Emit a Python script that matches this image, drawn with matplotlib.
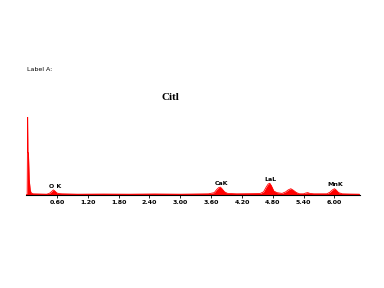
import matplotlib
matplotlib.use("Agg")
import matplotlib.pyplot as plt

# spectrum (keV, counts)
energy = [0.02, 0.03, 0.035, 0.045, 0.06, 0.08, 0.10, 0.14, 0.40, 0.45, 0.49, 0.53, 0.56, 0.60, 0.64,
          0.70, 1.00, 1.50, 2.00, 2.50, 3.00, 3.55, 3.66, 3.71, 3.75, 3.78, 3.81, 3.86, 3.92, 4.10,
          4.55, 4.62, 4.67, 4.71, 4.74, 4.77, 4.82, 4.88, 4.98, 5.05, 5.10, 5.15, 5.20, 5.26, 5.32,
          5.40, 5.44, 5.48, 5.52, 5.60, 5.85, 5.91, 5.96, 6.00, 6.03, 6.08, 6.15, 6.30, 6.48]
counts = [0, 100, 54, 54, 20, 6, 2.5, 1.5, 1, 2, 4, 6.5, 5, 2.5, 1.8,
          1.5, 1, 1.2, 1, 1.3, 1, 1.5, 3, 7, 9.5, 10, 8, 4, 2, 1.5,
          1.8, 4, 10, 14, 15, 12, 5, 3, 2, 4, 6.5, 8, 6, 3, 1.5,
          1.5, 2.5, 3, 2, 1.5, 1.5, 3.5, 6.5, 8, 6.5, 3, 1.5, 1.2, 1]

peak_names = ["O K", "CaK", "LaL", "MnK"]
peak_pos = [0.57, 3.80, 4.76, 6.02]
peak_top = [8, 12, 17, 10]

ticks = [0.60, 1.20, 1.80, 2.40, 3.00, 3.60, 4.20, 4.80, 5.40, 6.00]

fig = plt.figure(figsize=(3.84, 2.88), dpi=100)
ax = fig.add_axes([0.068, 0.323, 0.87, 0.272])
ax.fill_between(energy, counts, 0, color="red", lw=0)
ax.plot(energy, counts, color="red", lw=0.6)
ax.axhline(1, color="red", lw=0.6)

for name, x, y in zip(peak_names, peak_pos, peak_top):
    ax.text(x, y, name, fontsize=4.5, fontweight="bold", ha="center", va="bottom")

ax.set_xlim(0, 6.5)
ax.set_ylim(0, 100)
ax.set_xticks(ticks)
ax.set_xticklabels([f"{t:.2f}" for t in ticks], fontsize=4.5, fontweight="bold")
ax.set_yticks([])
for s in ["top", "left", "right"]:
    ax.spines[s].set_visible(False)
ax.spines["bottom"].set_linewidth(0.8)
ax.tick_params(axis="x", length=2, width=0.6, pad=1.5)

fig.text(0.07, 0.76, "Label A:", fontsize=4.5, ha="left", va="center")
fig.text(0.445, 0.663, "Citl", fontsize=8, fontweight="bold", family="Liberation Serif",
         ha="center", va="center")

fig.savefig("out.png", dpi=100)
